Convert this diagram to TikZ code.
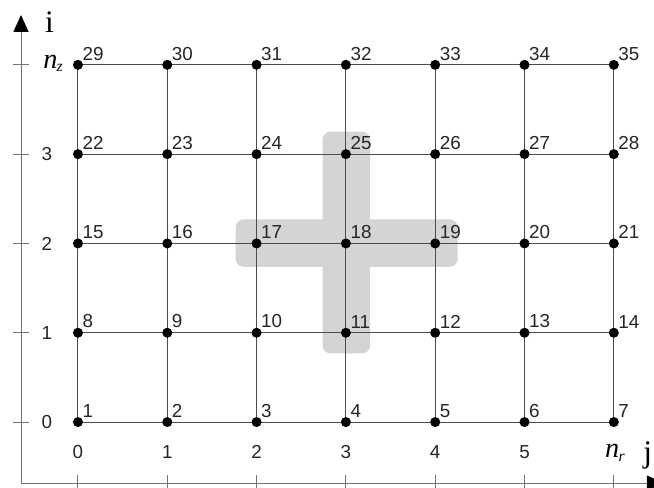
\documentclass[tikz,border=0pt]{standalone}
\usepackage{fontspec}
\setmainfont{Liberation Sans}
\newfontfamily\serifont{Liberation Serif}
\usetikzlibrary{arrows.meta}
\definecolor{croix}{RGB}{212,212,214}
\begin{document}
\begin{tikzpicture}[x=2cm,y=2cm,
    grille/.style={draw=black!70, line width=0.6pt},
    axe/.style={draw=black!55, line width=0.6pt},
    point/.style={circle, fill=black, inner sep=0pt, minimum size=6.4pt},
    numero/.style={font=\fontsize{12}{13}\selectfont, text=black!85, inner sep=0pt},
    graduation/.style={font=\fontsize{12}{13}\selectfont, text=black!85},
    titre/.style={font=\serifont\fontsize{20}{22}\selectfont, inner sep=0pt, anchor=base},
    indice/.style={font=\serifont\itshape\fontsize{18}{20}\selectfont, inner sep=0pt, anchor=base west}]
    \useasboundingbox (-0.873,-0.728) rectangle (6.45,4.726);

    % Points de la grille
    \foreach \r in {0,...,4}
        \foreach \c in {0,...,6}
            \coordinate (p-\r-\c) at (\c,\r);

    % Croix grisee autour de 18
    \fill[croix, rounded corners=5pt] (1.766,1.739) rectangle (4.252,2.270);
    \fill[croix, rounded corners=5pt] (2.740,0.769) rectangle (3.270,3.251);

    % Lignes de la grille
    \foreach \r in {0,...,4}
        \draw[grille] (p-\r-0) -- (p-\r-6);
    \foreach \c in {0,...,6}
        \draw[grille] (p-0-\c) -- (p-4-\c);

    % Noeuds numerotes
    \foreach \r in {0,...,4}
        \foreach \c in {0,...,6} {
            \pgfmathtruncatemacro{\k}{7*\r+\c+1}
            \node[point, label={[numero, label distance=0.5pt]45:\k}] (n\k) at (p-\r-\c) {};
        }

    % Axes
    \coordinate (O) at (-0.638,-0.683);
    \coordinate (haut) at (-0.638,4.558);
    \coordinate (droite) at (6.56,-0.683);
    \draw[axe, -{Triangle[length=10.8pt,width=9.6pt,color=black]}] (O) -- (haut);
    \draw[axe, -{Triangle[length=10.8pt,width=9.6pt,color=black]}] (O) -- (droite);
    \node[titre] (i) at (-0.32,4.367) {i};
    \node[titre] (j) at (6.38,-0.448) {j};

    % Graduations en i
    \foreach \r in {0,...,4}
        \draw[axe] (-0.728,\r) -- (-0.548,\r);
    \foreach \r in {0,...,3}
        \node[graduation] (lr-\r) at (-0.347,\r) {\r};
    \node[indice] (lr-4) at (-0.392,3.964) {n\kern-0.5pt\raisebox{-0.3ex}{\fontsize{10}{11}\selectfont z}};

    % Graduations en j
    \foreach \c in {0,...,6}
        \draw[axe] (\c,-0.773) -- (\c,-0.593);
    \foreach \c in {0,...,5}
        \node[graduation] (lc-\c) at (\c,-0.336) {\c};
    \node[indice] (lc-6) at (5.90,-0.40) {n\kern-0.5pt\raisebox{-0.3ex}{\fontsize{10}{11}\selectfont r}};
\end{tikzpicture}
\end{document}
